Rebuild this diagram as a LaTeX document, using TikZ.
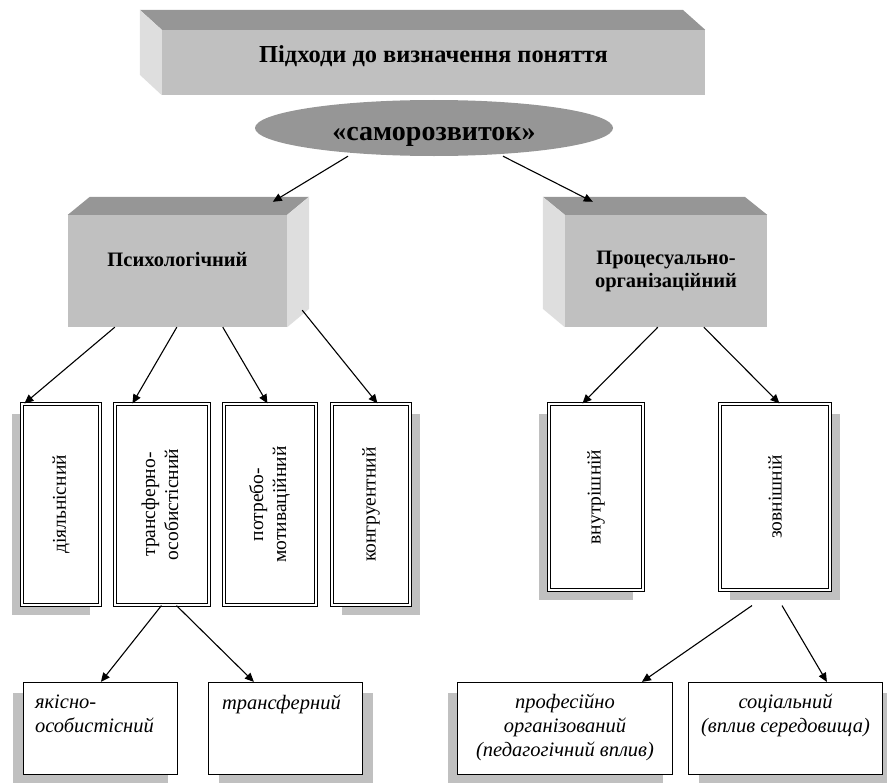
\documentclass[tikz,border=0pt]{standalone}
\usepackage{fontspec}
\setmainfont{Liberation Serif}
\usepackage{graphicx}
\usetikzlibrary{arrows.meta,shapes.geometric,shadows}

\definecolor{topgray}{RGB}{150,150,150}
\definecolor{frontgray}{RGB}{192,192,192}
\definecolor{sidegray}{RGB}{222,222,222}
\definecolor{shadowgray}{RGB}{192,192,192}

\tikzset{
  front/.style={fill=frontgray, inner sep=0pt},
  headtext/.style={font=\bfseries\fontsize{20.5bp}{23bp}\selectfont, align=center},
  vbox/.style={draw, double, double distance=1.8bp, line width=1.1bp, fill=white,
    inner sep=0pt, font=\fontsize{19.5bp}{23bp}\selectfont},
  ibox/.style={draw, line width=1.2bp, fill=white, inner sep=0pt},
  itext/.style={font=\itshape\fontsize{20.5bp}{24bp}\selectfont, inner sep=0pt},
  lshadow/.style={drop shadow={shadow xshift=-10bp, shadow yshift=-10bp, fill=shadowgray, opacity=1}},
  rshadow/.style={drop shadow={shadow xshift=10bp, shadow yshift=-10bp, fill=shadowgray, opacity=1}},
  arr/.style={-{Triangle[length=9bp,width=8bp]}, line width=1.1bp}
}

\begin{document}
\begin{tikzpicture}[x=1bp, y=-1bp]
\useasboundingbox (0,0) rectangle (887,783);

% Верхній блок
	\node[front, minimum width=543bp, minimum height=65bp] (top) at (433.5,62.5) {};
	\fill[topgray] (top.north west) -- ++(-22,-20) -- ++(543,0) -- (top.north east) -- cycle;
	\fill[sidegray] (top.north west) -- ++(-22,-20) -- ++(0,65) -- (top.south west) -- cycle;
	\node[anchor=base, font=\bfseries\fontsize{24.4bp}{28bp}\selectfont] (toptxt)
		at (top.center) {Підходи до визначення поняття};

	\node[ellipse, fill=topgray, minimum width=358bp, minimum height=56bp, inner sep=0pt] (ell) at (434,128) {};
	\node[anchor=base, font=\bfseries\fontsize{28bp}{32bp}\selectfont] (elltxt)
		at ([shift={(0,12)}]ell.center) {«саморозвиток»};

% Два підходи
	\node[front, minimum width=219bp, minimum height=112bp] (psych) at (177.5,271) {};
	\fill[topgray] (psych.north west) -- ++(22,-18) -- ++(219,0) -- (psych.north east) -- cycle;
	\fill[sidegray] (psych.north east) -- ++(22,-18) -- ++(0,112) -- (psych.south east) -- cycle;
	\node[headtext, anchor=base] (psychtxt) at ([shift={(0,-5)}]psych.center) {Психологічний};

	\node[front, minimum width=202bp, minimum height=112bp] (proc) at (666,271) {};
	\fill[topgray] (proc.north west) -- ++(-22,-18) -- ++(202,0) -- (proc.north east) -- cycle;
	\fill[sidegray] (proc.north west) -- ++(-22,-18) -- ++(0,112) -- (proc.south west) -- cycle;
	\node[headtext] (proctxt) at (proc.center) {Процесуально-\\організаційний};

	\draw[arr] ([xshift=-86bp]ell.south) -- ([shift={(205,-13)}]psych.north west);
	\draw[arr] ([xshift=69bp]ell.south) -- ([shift={(28,-13)}]proc.north west);

% Вертикальні блоки
	\node[vbox, lshadow, minimum width=78bp, minimum height=201bp] (dial) at (61,504.5)
		{\rotatebox{90}{діяльнісний}};
	\node[vbox, minimum width=94bp, minimum height=201bp] (trans) at (162,504.5)
		{\rotatebox{90}{\begin{tabular}{@{}c@{}}трансферно-\\особистісний\end{tabular}}};
	\node[vbox, minimum width=92bp, minimum height=201bp] (potr) at (270,504.5)
		{\rotatebox{90}{\begin{tabular}{@{}c@{}}потребо-\\мотиваційний\end{tabular}}};
	\node[vbox, rshadow, minimum width=78bp, minimum height=201bp] (kongr) at (371,504.5)
		{\rotatebox{90}{конгруентний}};

	\node[vbox, lshadow, minimum width=94bp, minimum height=186bp] (vnutr) at (596,497)
		{\rotatebox{90}{внутрішній}};
	\node[vbox, rshadow, minimum width=110bp, minimum height=186bp] (zovn) at (775,497)
		{\rotatebox{90}{зовнішній}};

	\draw[arr] ([xshift=47bp]psych.south west) -- ([xshift=3bp]dial.north west);
	\draw[arr] ([xshift=109bp]psych.south west) -- ([xshift=18bp]trans.north west);
	\draw[arr] ([xshift=155bp]psych.south west) -- ([xshift=44bp]potr.north west);
	\draw[arr] ([shift={(15,-17)}]psych.south east) -- ([xshift=46bp]kongr.north west);

	\draw[arr] ([xshift=93bp]proc.south west) -- ([xshift=34bp]vnutr.north west);
	\draw[arr] ([xshift=139bp]proc.south west) -- ([xshift=60bp]zovn.north west);

% Нижні блоки
	\node[ibox, lshadow, minimum width=154bp, minimum height=92bp] (yakis) at (100.5,728.5) {};
	\node[ibox, rshadow, minimum width=154bp, minimum height=92bp] (transf) at (285.5,728.5) {};
	\node[ibox, lshadow, minimum width=215bp, minimum height=92bp] (prof) at (565,728.5) {};
	\node[ibox, rshadow, minimum width=194bp, minimum height=92bp] (soc) at (785.5,728.5) {};

	\node[itext, anchor=north west, align=left] (yakistxt) at ([shift={(12,13)}]yakis.north west)
		{якісно-\\особистісний};
	\node[itext, anchor=north west, align=left] (transftxt) at ([shift={(14,13)}]transf.north west)
		{трансферний};
	\node[itext, anchor=north, align=center] (proftxt) at ([shift={(0,12)}]prof.north)
		{професійно\\організований\\(педагогічний вплив)};
	\node[itext, anchor=north, align=center] (soctxt) at ([shift={(0,12)}]soc.north)
		{соціальний\\(вплив середовища)};

	\draw[arr] ([xshift=47bp]trans.south west) -- ([xshift=78bp]yakis.north west);
	\draw[arr] ([xshift=62bp]trans.south west) -- ([xshift=46bp]transf.north west);

	\draw[arr] ([shift={(-23,15)}]zovn.south) -- ([xshift=185bp]prof.north west);
	\draw[arr] ([shift={(7,15)}]zovn.south) -- ([xshift=139bp]soc.north west);

\end{tikzpicture}
\end{document}
